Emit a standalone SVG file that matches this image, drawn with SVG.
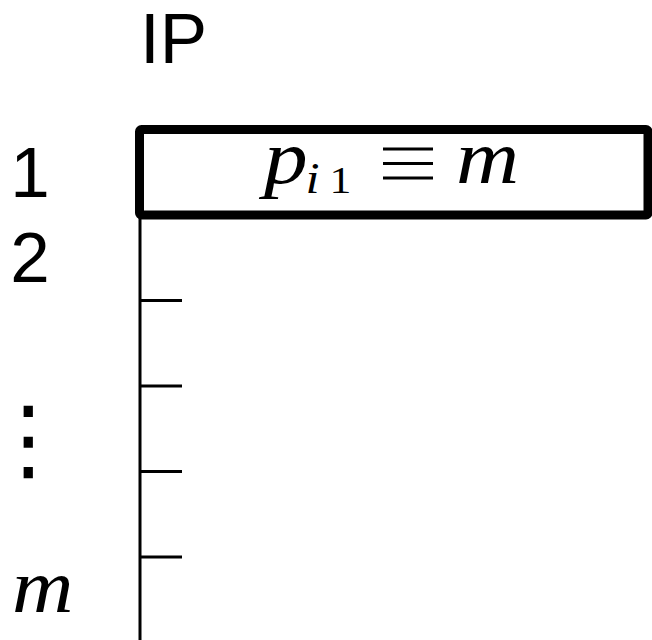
<svg xmlns="http://www.w3.org/2000/svg" width="652" height="640" viewBox="0 0 652 640">
<style>
.lbl{font-family:"Liberation Sans","DejaVu Sans",sans-serif;font-size:71px;fill:#000}
.math{font-family:"Liberation Serif","DejaVu Serif",serif;font-style:italic;fill:#000}
.ln{stroke:#000;stroke-width:3;fill:none}
</style>
<rect width="652" height="640" fill="#fff"/>
<g id="header"><text class="lbl" x="140" y="63" font-size="73">IP</text></g>
<g id="row-labels">
<text class="lbl" x="30" y="197" text-anchor="middle">1</text>
<text class="lbl" x="30" y="282" text-anchor="middle">2</text>
<text x="28.5" y="470" text-anchor="middle" font-family="DejaVu Sans,sans-serif" font-size="90">⋮</text>
<text class="math" transform="translate(12 612) scale(1.12 1)" x="0" y="0" font-size="76">m</text>
</g>
<g id="axis">
<line class="ln" x1="140" y1="214" x2="140" y2="640"/>
<line class="ln" x1="140" y1="300.5" x2="182" y2="300.5"/>
<line class="ln" x1="140" y1="386" x2="182" y2="386"/>
<line class="ln" x1="140" y1="471.5" x2="182" y2="471.5"/>
<line class="ln" x1="140" y1="557" x2="182" y2="557"/>
</g>
<g id="node-p1">
<rect x="139.5" y="129.5" width="508.5" height="85.5" rx="2" fill="#fff" stroke="#000" stroke-width="9"/>
<text class="math" transform="translate(264 183) scale(1.15 1)" font-size="76"><tspan x="0" y="0">p</tspan><tspan x="36" y="10" font-size="44">i</tspan><tspan x="57" y="10" font-size="38" font-style="normal">1</tspan></text>
<g id="equiv" class="ln"><line x1="383" y1="149" x2="433" y2="149"/><line x1="383" y1="163.5" x2="433" y2="163.5"/><line x1="383" y1="178" x2="433" y2="178"/></g>
<text class="math" transform="translate(456 183) scale(1.15 1)" font-size="76">m</text>
</g>
</svg>
